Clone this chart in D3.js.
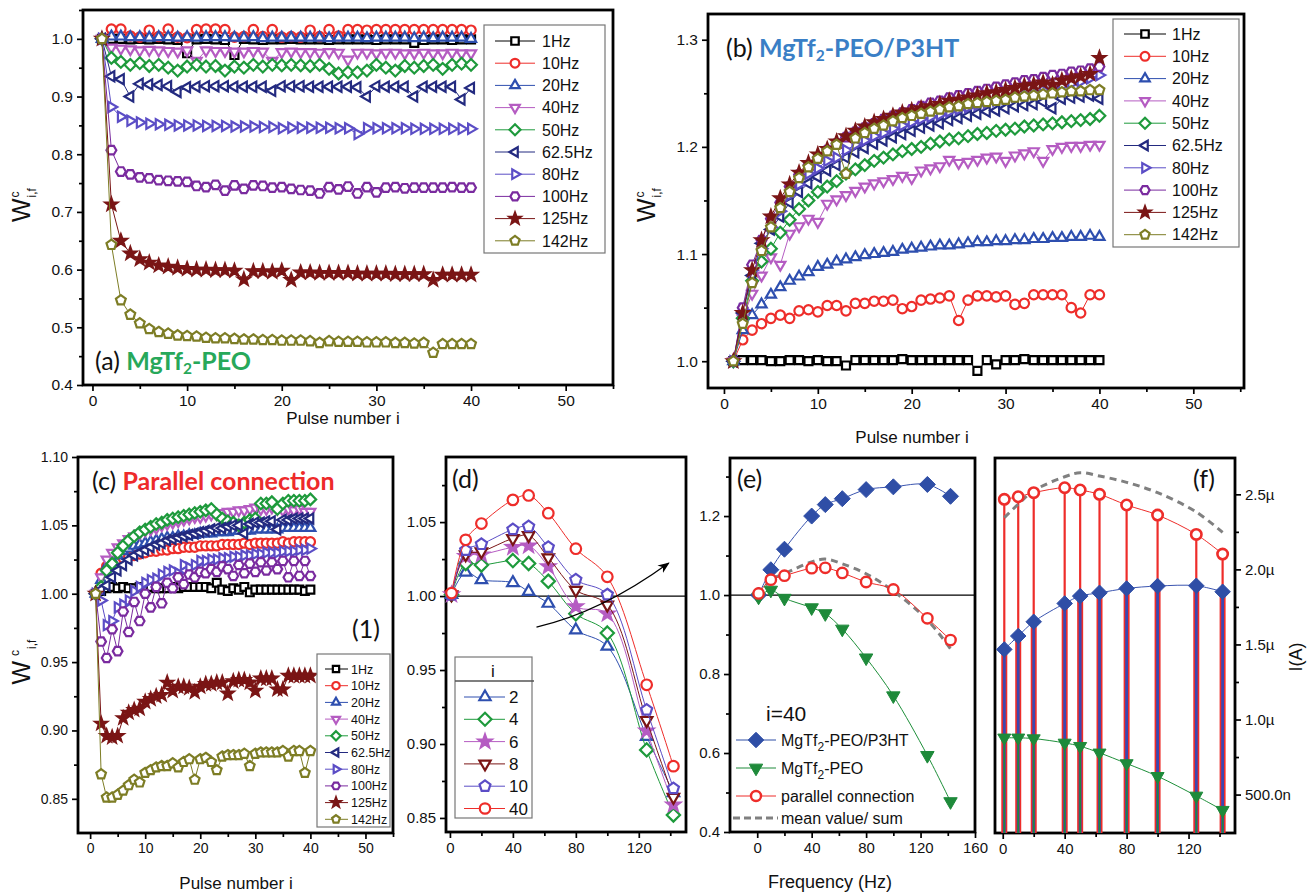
<!DOCTYPE html>
<html>
<head>
<meta charset="utf-8">
<script src="https://cdn.jsdelivr.net/npm/d3@7"></script>
<style>
  body { margin: 0; background: #fff; }
  svg { display: block; }
</style>
</head>
<body>
<script>
/* ---------- data ---------- */
const hzLabels = ['1Hz', '10Hz', '20Hz', '40Hz', '50Hz', '62.5Hz', '80Hz', '100Hz', '125Hz', '142Hz'];
const hzColors = ['#000000', '#ee2d2a', '#2e4faf', '#b55cc2', '#1e9a3c', '#232a80', '#5b4dc6', '#7a2b9f', '#7a1515', '#7d7d25'];
const hzShapes = ['square', 'circle', 'up', 'down', 'diamond', 'left', 'right', 'hex', 'star', 'pent'];
const pulse = d3.range(1, 41); // pulse number i

// (a) MgTf2-PEO
const aW = [
  [1.0, 1.0, 1.0, 0.999, 1.0, 0.999, 1.0, 0.999, 0.998, 0.975, 0.999, 1.0, 0.999, 0.998, 0.972, 1.0, 0.999, 0.998, 0.999, 0.999, 1.0, 0.999, 0.999, 0.999, 0.998, 0.999, 0.999, 0.999, 0.999, 0.998, 0.999, 0.999, 0.999, 0.993, 0.998, 0.999, 0.999, 0.998, 0.999, 0.999],
  [1.0, 1.017, 1.017, 1.005, 1.003, 1.015, 1.004, 1.017, 1.003, 1.002, 1.016, 1.017, 1.017, 1.016, 1.003, 1.004, 1.016, 1.004, 1.016, 1.003, 1.004, 1.003, 1.015, 1.004, 1.016, 1.005, 1.016, 1.016, 1.015, 1.016, 1.016, 1.016, 1.016, 1.016, 1.016, 1.016, 1.016, 1.016, 1.016, 1.015],
  [1.0, 1.004, 1.004, 1.003, 1.003, 1.002, 1.003, 1.003, 1.002, 1.003, 1.002, 1.003, 1.003, 1.003, 1.002, 1.002, 1.003, 1.001, 1.002, 1.002, 1.002, 1.002, 1.002, 1.002, 1.001, 1.002, 1.002, 1.002, 1.001, 1.002, 1.002, 1.002, 1.002, 1.001, 1.002, 1.001, 1.002, 1.002, 1.002, 1.0],
  [1.0, 0.985, 0.983, 0.982, 0.98, 0.981, 0.98, 0.979, 0.978, 0.98, 0.962, 0.98, 0.979, 0.979, 0.978, 0.978, 0.979, 0.978, 0.962, 0.977, 0.978, 0.977, 0.977, 0.976, 0.977, 0.976, 0.964, 0.976, 0.976, 0.975, 0.976, 0.976, 0.975, 0.975, 0.976, 0.975, 0.975, 0.976, 0.975, 0.975],
  [1.0, 0.967, 0.96, 0.955, 0.958, 0.953, 0.955, 0.95, 0.945, 0.952, 0.955, 0.952, 0.953, 0.945, 0.952, 0.95, 0.955, 0.952, 0.955, 0.954, 0.955, 0.954, 0.953, 0.955, 0.948, 0.94, 0.942, 0.942, 0.945, 0.955, 0.95, 0.945, 0.953, 0.95, 0.953, 0.955, 0.948, 0.955, 0.957, 0.955],
  [1.0, 0.935, 0.93, 0.9, 0.922, 0.921, 0.92, 0.918, 0.908, 0.916, 0.917, 0.918, 0.918, 0.918, 0.917, 0.917, 0.917, 0.917, 0.91, 0.918, 0.918, 0.918, 0.917, 0.917, 0.917, 0.917, 0.917, 0.916, 0.9, 0.918, 0.917, 0.917, 0.917, 0.9, 0.917, 0.917, 0.917, 0.917, 0.895, 0.915],
  [1.0, 0.882, 0.865, 0.858, 0.855, 0.853, 0.852, 0.851, 0.85, 0.85, 0.85, 0.849, 0.849, 0.849, 0.848, 0.848, 0.848, 0.847, 0.847, 0.845, 0.846, 0.846, 0.846, 0.846, 0.846, 0.845, 0.845, 0.835, 0.845, 0.845, 0.845, 0.845, 0.845, 0.844, 0.844, 0.844, 0.844, 0.844, 0.844, 0.844],
  [1.0, 0.807, 0.77, 0.765, 0.76, 0.758, 0.755, 0.754, 0.753, 0.752, 0.745, 0.743, 0.747, 0.737, 0.746, 0.74, 0.746, 0.745, 0.742, 0.743, 0.74, 0.738, 0.737, 0.732, 0.743, 0.739, 0.744, 0.732, 0.743, 0.734, 0.742, 0.743, 0.741, 0.742, 0.742, 0.742, 0.742, 0.743, 0.742, 0.742],
  [1.0, 0.713, 0.65, 0.628, 0.618, 0.612, 0.607, 0.605, 0.603, 0.601, 0.6, 0.6, 0.599, 0.599, 0.598, 0.583, 0.597, 0.597, 0.596, 0.598, 0.582, 0.595, 0.595, 0.594, 0.594, 0.594, 0.594, 0.593, 0.593, 0.593, 0.593, 0.592, 0.592, 0.592, 0.592, 0.582, 0.591, 0.591, 0.591, 0.591],
  [1.0, 0.643, 0.547, 0.522, 0.507, 0.497, 0.492, 0.489, 0.486, 0.485, 0.484, 0.482, 0.481, 0.481, 0.48, 0.479, 0.479, 0.478, 0.478, 0.477, 0.477, 0.477, 0.476, 0.473, 0.476, 0.475, 0.475, 0.475, 0.474, 0.474, 0.474, 0.473, 0.473, 0.472, 0.473, 0.456, 0.471, 0.471, 0.471, 0.471]
];

// (b) MgTf2-PEO/P3HT
const bW = [
  [1.0, 1.001, 1.001, 1.001, 1.0, 1.0, 1.001, 1.001, 1.0, 1.001, 1.0, 1.0, 0.996, 1.001, 1.001, 1.001, 1.001, 1.001, 1.002, 1.001, 1.001, 1.001, 1.001, 1.001, 1.001, 1.001, 0.991, 1.001, 0.997, 1.001, 1.001, 1.002, 1.001, 1.001, 1.001, 1.001, 1.001, 1.001, 1.001, 1.001],
  [1.0, 1.02, 1.029, 1.035, 1.04, 1.043, 1.04, 1.047, 1.048, 1.046, 1.052, 1.052, 1.047, 1.054, 1.054, 1.056, 1.056, 1.057, 1.049, 1.051, 1.057, 1.058, 1.059, 1.061, 1.038, 1.057, 1.061, 1.061, 1.06, 1.061, 1.053, 1.054, 1.062, 1.062, 1.062, 1.062, 1.05, 1.045, 1.062, 1.062],
  [1.0, 1.029, 1.043, 1.053, 1.062, 1.069, 1.075, 1.079, 1.083, 1.088, 1.09, 1.093, 1.095, 1.097, 1.099, 1.1, 1.101, 1.102, 1.104, 1.105, 1.106, 1.107, 1.108, 1.108, 1.109, 1.11, 1.111, 1.111, 1.112, 1.112, 1.113, 1.113, 1.114, 1.114, 1.115, 1.115, 1.116, 1.116, 1.117, 1.116],
  [1.0, 1.04, 1.063, 1.08, 1.097, 1.09, 1.119, 1.126, 1.133, 1.13, 1.147, 1.151, 1.155, 1.159, 1.163, 1.166, 1.168, 1.17, 1.173, 1.171, 1.178, 1.18, 1.182, 1.188, 1.185, 1.186, 1.188, 1.19, 1.191, 1.187, 1.192, 1.194, 1.196, 1.187, 1.198, 1.2, 1.201, 1.201, 1.202, 1.202],
  [1.0, 1.04, 1.075, 1.093, 1.105, 1.12, 1.132, 1.142, 1.15, 1.158, 1.163, 1.168, 1.175, 1.179, 1.183, 1.187, 1.19, 1.193, 1.196, 1.198, 1.2, 1.203, 1.205, 1.207, 1.208, 1.21, 1.212, 1.213, 1.215, 1.216, 1.217, 1.219, 1.22, 1.221, 1.222, 1.223, 1.224, 1.225, 1.226, 1.229],
  [1.0, 1.045, 1.08, 1.11, 1.123, 1.135, 1.148, 1.158, 1.166, 1.172, 1.178, 1.183, 1.19, 1.195, 1.199, 1.203, 1.206, 1.209, 1.212, 1.215, 1.218, 1.22, 1.222, 1.225, 1.227, 1.229, 1.231, 1.233, 1.234, 1.236, 1.238, 1.239, 1.24, 1.242, 1.236, 1.245, 1.246, 1.247, 1.248, 1.245],
  [1.0, 1.048, 1.085, 1.105, 1.125, 1.14, 1.155, 1.165, 1.175, 1.18, 1.187, 1.19, 1.197, 1.202, 1.206, 1.21, 1.213, 1.217, 1.22, 1.223, 1.226, 1.228, 1.23, 1.233, 1.235, 1.237, 1.239, 1.241, 1.243, 1.245, 1.247, 1.249, 1.251, 1.253, 1.255, 1.257, 1.259, 1.261, 1.264, 1.267],
  [1.0, 1.05, 1.09, 1.113, 1.133, 1.148, 1.163, 1.174, 1.183, 1.19, 1.197, 1.203, 1.209, 1.214, 1.218, 1.222, 1.226, 1.229, 1.232, 1.235, 1.238, 1.241, 1.243, 1.246, 1.248, 1.25, 1.252, 1.254, 1.256, 1.258, 1.26, 1.262, 1.263, 1.265, 1.267, 1.268, 1.27, 1.271, 1.273, 1.275],
  [1.0, 1.045, 1.085, 1.113, 1.135, 1.152, 1.165, 1.176, 1.185, 1.193, 1.198, 1.205, 1.21, 1.215, 1.219, 1.223, 1.226, 1.229, 1.232, 1.234, 1.236, 1.238, 1.24, 1.243, 1.244, 1.246, 1.248, 1.25, 1.251, 1.253, 1.255, 1.257, 1.258, 1.26, 1.258, 1.262, 1.264, 1.266, 1.268, 1.283],
  [1.0, 1.035, 1.073, 1.103, 1.125, 1.143, 1.158, 1.171, 1.181, 1.189, 1.196, 1.202, 1.175, 1.208, 1.213, 1.217, 1.22, 1.224, 1.227, 1.229, 1.231, 1.233, 1.235, 1.237, 1.238, 1.24, 1.241, 1.242, 1.243, 1.244, 1.246, 1.247, 1.248, 1.249, 1.25, 1.251, 1.252, 1.252, 1.253, 1.253]
];

// (c) parallel connection
const cW = [
  [1.0, 1.002, 1.004, 1.005, 1.004, 1.005, 1.004, 1.004, 1.005, 1.004, 1.005, 1.004, 1.004, 1.004, 1.005, 1.004, 1.005, 1.005, 1.005, 1.005, 1.005, 1.004, 1.008, 1.003, 1.002, 1.004, 1.003, 1.005, 1.001, 1.003, 1.003, 1.003, 1.003, 1.003, 1.003, 1.003, 1.003, 1.003, 1.002, 1.003],
  [1.0, 1.015, 1.02, 1.023, 1.025, 1.026, 1.027, 1.028, 1.029, 1.03, 1.031, 1.031, 1.032, 1.032, 1.033, 1.033, 1.034, 1.034, 1.034, 1.035, 1.035, 1.035, 1.035, 1.036, 1.036, 1.036, 1.036, 1.037, 1.036, 1.037, 1.037, 1.037, 1.037, 1.037, 1.038, 1.037, 1.038, 1.038, 1.038, 1.038],
  [1.0, 1.01, 1.02, 1.025, 1.028, 1.031, 1.033, 1.035, 1.036, 1.037, 1.038, 1.039, 1.04, 1.041, 1.041, 1.042, 1.042, 1.043, 1.043, 1.044, 1.044, 1.044, 1.045, 1.045, 1.045, 1.046, 1.046, 1.046, 1.046, 1.047, 1.047, 1.047, 1.047, 1.047, 1.048, 1.048, 1.048, 1.048, 1.048, 1.048],
  [1.0, 1.012, 1.025, 1.03, 1.034, 1.037, 1.04, 1.042, 1.044, 1.046, 1.047, 1.048, 1.05, 1.051, 1.052, 1.053, 1.054, 1.055, 1.056, 1.056, 1.057, 1.058, 1.058, 1.059, 1.06, 1.06, 1.061, 1.061, 1.062, 1.063, 1.062, 1.062, 1.063, 1.062, 1.061, 1.062, 1.061, 1.062, 1.06, 1.06],
  [1.0, 1.005, 1.017, 1.022, 1.03, 1.035, 1.039, 1.042, 1.045, 1.047, 1.049, 1.051, 1.052, 1.054, 1.055, 1.056, 1.057, 1.058, 1.059, 1.06, 1.061, 1.062, 1.058, 1.055, 1.053, 1.052, 1.05, 1.052, 1.054, 1.055, 1.066, 1.066, 1.067, 1.062, 1.066, 1.068, 1.068, 1.068, 1.068, 1.069],
  [1.0, 1.003, 1.006, 1.012, 1.017, 1.021, 1.025, 1.028, 1.03, 1.032, 1.034, 1.036, 1.037, 1.039, 1.04, 1.041, 1.042, 1.043, 1.044, 1.045, 1.046, 1.047, 1.048, 1.048, 1.049, 1.05, 1.05, 1.044, 1.051, 1.052, 1.052, 1.053, 1.053, 1.047, 1.054, 1.054, 1.055, 1.055, 1.055, 1.055],
  [1.0, 0.995, 0.977, 0.98, 0.99, 0.992, 0.995, 1.002, 1.005, 1.008, 1.01, 1.011, 1.014, 1.016, 1.017, 1.015, 1.021, 1.019, 1.021, 1.024, 1.024, 1.025, 1.025, 1.026, 1.026, 1.027, 1.027, 1.028, 1.028, 1.029, 1.029, 1.03, 1.03, 1.03, 1.031, 1.031, 1.031, 1.032, 1.032, 1.033],
  [1.0, 0.965, 0.953, 0.974, 0.958, 0.987, 0.972, 0.994, 0.98, 1.0, 0.99, 1.005, 0.993, 1.008, 1.004, 1.012, 1.007, 1.014, 1.012, 1.016, 1.015, 1.018, 1.016, 1.02, 1.018, 1.013, 1.021, 1.015, 1.022, 1.016, 1.023, 1.017, 1.023, 1.018, 1.024, 1.012, 1.024, 1.013, 1.024, 1.013],
  [1.0, 0.905, 0.896, 0.895, 0.896, 0.909, 0.913, 0.915, 0.916, 0.921, 0.923, 0.925, 0.926, 0.935, 0.929, 0.932, 0.932, 0.931, 0.928, 0.932, 0.934, 0.934, 0.935, 0.935, 0.927, 0.936, 0.937, 0.937, 0.935, 0.929, 0.938, 0.938, 0.938, 0.93, 0.93, 0.94, 0.94, 0.94, 0.94, 0.94],
  [1.0, 0.868, 0.851, 0.851, 0.853, 0.856, 0.86, 0.864, 0.862, 0.869, 0.871, 0.873, 0.874, 0.874, 0.876, 0.873, 0.877, 0.879, 0.864, 0.879, 0.88, 0.877, 0.871, 0.881, 0.882, 0.882, 0.882, 0.883, 0.874, 0.883, 0.884, 0.884, 0.884, 0.884, 0.885, 0.881, 0.885, 0.885, 0.869, 0.885]
];

// (d)-(f) against frequency
const freq = [1, 10, 20, 40, 50, 62.5, 80, 100, 125, 142];
const dLabels = ['2', '4', '6', '8', '10', '40'];
const dColors = ['#2e4faf', '#1e9a3c', '#b55cc2', '#7a1515', '#5b4dc6', '#ee2d2a'];
const dShapes = ['up', 'diamond', 'star', 'down', 'pent', 'circle'];
const dW = [
  [1.001, 1.016, 1.011, 1.009, 1.003, 0.995, 0.977, 0.966, 0.905, 0.867],
  [1.001, 1.022, 1.021, 1.024, 1.022, 1.010, 0.988, 0.975, 0.896, 0.852],
  [1.001, 1.027, 1.028, 1.033, 1.034, 1.020, 0.993, 0.988, 0.909, 0.859],
  [1.001, 1.028, 1.030, 1.039, 1.041, 1.026, 1.004, 0.994, 0.916, 0.864],
  [1.001, 1.031, 1.035, 1.045, 1.047, 1.033, 1.011, 1.001, 0.923, 0.870],
  [1.002, 1.038, 1.049, 1.065, 1.068, 1.056, 1.032, 1.013, 0.940, 0.885]
];

const eP3HT = [1.0, 1.064, 1.116, 1.2, 1.229, 1.244, 1.267, 1.274, 1.28, 1.25];
const ePEO = [0.995, 1.0125, 0.992, 0.968, 0.953, 0.914, 0.841, 0.745, 0.594, 0.477];
const ePar = [1.004, 1.039, 1.049, 1.068, 1.069, 1.056, 1.033, 1.014, 0.941, 0.886];
const eMean = [1.0, 1.038, 1.054, 1.084, 1.091, 1.079, 1.054, 1.01, 0.937, 0.864];

// (f) currents in microampere
const fP3HT = [1.467, 1.556, 1.651, 1.773, 1.822, 1.844, 1.873, 1.889, 1.891, 1.851];
const fPEO = [0.878, 0.878, 0.873, 0.844, 0.822, 0.778, 0.707, 0.622, 0.491, 0.396];
const fPar = [2.467, 2.484, 2.511, 2.544, 2.529, 2.5, 2.429, 2.362, 2.233, 2.102];
const fSum = [2.345, 2.434, 2.524, 2.617, 2.644, 2.622, 2.58, 2.511, 2.382, 2.247];
const fTicks = [0.5, 1.0, 1.5, 2.0, 2.5];
const fTickLabels = ['500.0n', '1.0\u00b5', '1.5\u00b5', '2.0\u00b5', '2.5\u00b5'];

/* ---------- helpers ---------- */
const FONT = '"Liberation Sans", Arial, sans-serif';
const LFONT = 'Lato, "Open Sans", sans-serif';

const svg = d3.select('body').append('svg')
  .attr('width', 1310)
  .attr('height', 895)
  .style('font-family', FONT);

// marker outline centred on 0,0
function shapePath(shape, r) {
  const p = d3.path();
  const poly = pts => { pts.forEach((q, i) => i ? p.lineTo(q[0], q[1]) : p.moveTo(q[0], q[1])); p.closePath(); };
  const ngon = (n, rr, a0) => poly(d3.range(n).map(k => [rr * Math.cos(a0 + 2 * Math.PI * k / n), rr * Math.sin(a0 + 2 * Math.PI * k / n)]));
  const c = Math.cos(Math.PI / 6), R = r * 1.25;
  switch (shape) {
    case 'square': p.rect(-r * 0.85, -r * 0.85, r * 1.7, r * 1.7); break;
    case 'circle': p.moveTo(r, 0); p.arc(0, 0, r, 0, 2 * Math.PI); break;
    case 'up': poly([[0, -R], [R * c, R / 2], [-R * c, R / 2]]); break;
    case 'down': poly([[0, R], [R * c, -R / 2], [-R * c, -R / 2]]); break;
    case 'left': poly([[-R, 0], [R / 2, -R * c], [R / 2, R * c]]); break;
    case 'right': poly([[R, 0], [-R / 2, -R * c], [-R / 2, R * c]]); break;
    case 'diamond': poly([[0, -R], [R, 0], [0, R], [-R, 0]]); break;
    case 'hex': ngon(6, r * 1.05, 0); break;
    case 'pent': ngon(5, r * 1.1, -Math.PI / 2); break;
    case 'star':
      poly(d3.range(10).map(k => {
        const rr = k % 2 ? r * 0.55 : r * 1.35, a = -Math.PI / 2 + k * Math.PI / 5;
        return [rr * Math.cos(a), rr * Math.sin(a)];
      }));
      break;
  }
  return p.toString();
}

function marks(g, pts, shape, color, r, fill, sw) {
  g.selectAll(null).data(pts).join('path')
    .attr('d', shapePath(shape, r))
    .attr('transform', d => `translate(${d[0]},${d[1]})`)
    .attr('fill', fill)
    .attr('stroke', color)
    .attr('stroke-width', sw)
    .attr('stroke-linejoin', 'miter');
}

function panel(o) {
  const g = svg.append('g');
  const x = d3.scaleLinear().domain(o.xd).range([o.x0, o.x1]);
  const y = d3.scaleLinear().domain(o.yd).range([o.y1, o.y0]);
  const style = s => {
    s.select('.domain').remove();
    s.selectAll('line').attr('stroke', '#000').attr('stroke-width', 1.7);
    s.selectAll('text').attr('font-size', o.fs).attr('font-family', FONT).attr('fill', '#111');
  };
  g.append('g').attr('transform', `translate(0,${o.y1})`)
    .call(d3.axisBottom(x).tickValues(o.xt).tickFormat(d3.format('d')).tickSize(6).tickPadding(4)).call(style);
  g.append('g').attr('transform', `translate(0,${o.y1})`)
    .call(d3.axisBottom(x).tickValues(o.xm).tickFormat('').tickSize(4)).call(style);
  const yAxis = o.right ? d3.axisRight : d3.axisLeft;
  const xPos = o.right ? o.x1 : o.x0;
  g.append('g').attr('transform', `translate(${xPos},0)`)
    .call(yAxis(y).tickValues(o.yt).tickFormat(o.yf).tickSize(6).tickPadding(4)).call(style);
  g.append('g').attr('transform', `translate(${xPos},0)`)
    .call(yAxis(y).tickValues(o.ym).tickFormat('').tickSize(4)).call(style);
  g.append('rect')
    .attr('x', o.x0).attr('y', o.y0)
    .attr('width', o.x1 - o.x0).attr('height', o.y1 - o.y0)
    .attr('fill', 'none').attr('stroke', '#000').attr('stroke-width', 2.8);
  return { g: g.append('g'), x, y };
}

function pulseSeries(P, data, r) {
  data.forEach((vals, k) => {
    const pts = vals.map((v, i) => [P.x(pulse[i]), P.y(v)]);
    P.g.append('path').attr('d', d3.line()(pts))
      .attr('fill', 'none').attr('stroke', hzColors[k]).attr('stroke-width', 1);
    marks(P.g, pts, hzShapes[k], hzColors[k], r, hzShapes[k] === 'star' ? hzColors[k] : '#fff', 2.2);
  });
}

function legend(o) {
  const g = svg.append('g');
  g.append('rect').attr('x', o.x).attr('y', o.y).attr('width', o.w).attr('height', o.h)
    .attr('fill', '#fff').attr('stroke', '#777').attr('stroke-width', 1.2);
  o.labels.forEach((lab, k) => {
    const yy = o.first + k * o.dy;
    g.append('line').attr('x1', o.l0).attr('x2', o.l1).attr('y1', yy).attr('y2', yy)
      .attr('stroke', o.colors[k]).attr('stroke-width', 1);
    marks(g, [[o.mx, yy]], o.shapes[k], o.colors[k], o.r, o.shapes[k] === 'star' ? o.colors[k] : '#fff', 2.2);
    g.append('text').attr('x', o.tx).attr('y', yy).attr('dy', '0.36em')
      .attr('font-size', o.fs).attr('font-family', o.font || FONT).attr('fill', '#111').text(lab);
  });
  return g;
}

function wLabel(x, y, spaced) {
  const t = svg.append('text').attr('transform', `translate(${x},${y}) rotate(-90)`)
    .attr('text-anchor', 'middle').attr('font-family', FONT).attr('fill', '#111');
  t.append('tspan').attr('font-size', 25).text('W');
  t.append('tspan').attr('font-size', 12).attr('dx', spaced ? 5 : 1).attr('dy', -11).text('c');
  t.append('tspan').attr('font-size', 12).attr('dx', spaced ? 1 : -6).attr('dy', 17).text('i,f');
}

function title(x, y, label, fs) {
  svg.append('text').attr('x', x).attr('y', y).attr('text-anchor', 'middle')
    .attr('font-size', fs).attr('font-family', FONT).attr('fill', '#111').text(label);
}

function tag(x, y, prefix, name, color, rest, fs) {
  const t = svg.append('text').attr('x', x).attr('y', y).attr('font-family', LFONT).attr('font-size', fs);
  t.append('tspan').attr('fill', '#111').text(prefix);
  if (name) {
    t.append('tspan').attr('fill', color).attr('font-weight', 'bold').text(name);
    if (rest !== undefined) {
      t.append('tspan').attr('fill', color).attr('font-weight', 'bold').attr('font-size', fs * 0.62).attr('dy', 4).text('2');
      t.append('tspan').attr('fill', color).attr('font-weight', 'bold').attr('dy', -4).text(rest);
    }
  }
}

const f1 = d3.format('.1f'), f2 = d3.format('.2f');

/* ---------- (a) ---------- */
const A = panel({
  x0: 83, x1: 613, y0: 10, y1: 385, xd: [-1, 55], yd: [0.4, 1.05],
  xt: d3.range(0, 51, 10), xm: d3.range(5, 56, 10),
  yt: [0.4, 0.5, 0.6, 0.7, 0.8, 0.9, 1.0], ym: [0.45, 0.55, 0.65, 0.75, 0.85, 0.95, 1.05], yf: f1, fs: 15.5
});
pulseSeries(A, aW, 4.7);
legend({ x: 484, y: 25, w: 121, h: 228, labels: hzLabels, colors: hzColors, shapes: hzShapes,
  first: 41, dy: 22.2, l0: 495, l1: 535, mx: 515, tx: 542, r: 4.4, fs: 16 });
tag(95, 370, '(a) ', 'MgTf', '#27a85a', '-PEO', 25);
wLabel(30, 205, false);
title(343, 424, 'Pulse number i', 17);

/* ---------- (b) ---------- */
const B = panel({
  x0: 708, x1: 1244, y0: 14, y1: 388, xd: [-1.7, 55.4], yd: [0.975, 1.324],
  xt: d3.range(0, 51, 10), xm: d3.range(5, 56, 10),
  yt: [1.0, 1.1, 1.2, 1.3], ym: [1.05, 1.15, 1.25], yf: f1, fs: 15.5
});
pulseSeries(B, bW, 4.7);
legend({ x: 1113, y: 19, w: 126, h: 228, labels: hzLabels, colors: hzColors, shapes: hzShapes,
  first: 34, dy: 22.3, l0: 1124, l1: 1166, mx: 1145, tx: 1172, r: 4.4, fs: 16 });
tag(726, 57, '(b) ', 'MgTf', '#3a7fc6', '-PEO/P3HT', 25);
wLabel(655, 205, false);
title(912, 443, 'Pulse number i', 17);

/* ---------- (c) ---------- */
const C = panel({
  x0: 78, x1: 393, y0: 457, y1: 833, xd: [-2.2, 55], yd: [0.825, 1.10],
  xt: d3.range(0, 51, 10), xm: d3.range(5, 56, 10),
  yt: [0.85, 0.90, 0.95, 1.00, 1.05, 1.10], ym: [0.875, 0.925, 0.975, 1.025, 1.075], yf: f2, fs: 14
});
pulseSeries(C, cW, 4.6);
legend({ x: 317, y: 654, w: 73, h: 173, labels: hzLabels, colors: hzColors, shapes: hzShapes,
  first: 669, dy: 16.7, l0: 325, l1: 348, mx: 336, tx: 351, r: 3.7, fs: 12.5,
  font: '"Liberation Sans Narrow", "Liberation Sans", sans-serif' });
tag(92, 490, '(c) ', 'Parallel connection', '#ee2a2a', undefined, 25);
svg.append('text').attr('x', 352).attr('y', 638).attr('font-family', LFONT).attr('font-size', 25).attr('fill', '#111').text('(1)');
wLabel(30, 662, true);
title(236, 889, 'Pulse number i', 17);

/* ---------- (d) ---------- */
const D = panel({
  x0: 446, x1: 686, y0: 457, y1: 832, xd: [-2.5, 150], yd: [0.8405, 1.094],
  xt: [0, 40, 80, 120], xm: [20, 60, 100, 140],
  yt: [0.85, 0.90, 0.95, 1.00, 1.05], ym: [0.875, 0.925, 0.975, 1.025, 1.075], yf: f2, fs: 15
});
D.g.append('line').attr('x1', 446).attr('x2', 686).attr('y1', D.y(1)).attr('y2', D.y(1))
  .attr('stroke', '#000').attr('stroke-width', 1.2);
const smooth = d3.line().curve(d3.curveCatmullRom.alpha(0.5));
dW.forEach((vals, k) => {
  const pts = vals.map((v, i) => [D.x(freq[i]), D.y(v)]);
  D.g.append('path').attr('d', smooth(pts)).attr('fill', 'none').attr('stroke', dColors[k]).attr('stroke-width', 1);
  marks(D.g, pts, dShapes[k], dColors[k], 5.3, dShapes[k] === 'star' ? dColors[k] : '#fff', 2.2);
});
// arrow showing increasing i
svg.append('defs').append('marker').attr('id', 'ah').attr('viewBox', '0 0 10 10')
  .attr('refX', 9).attr('refY', 5).attr('markerWidth', 9).attr('markerHeight', 9).attr('orient', 'auto')
  .append('path').attr('d', 'M0,1 L10,5 L0,9 L3,5 Z').attr('fill', '#000');
const arrowPath = d3.path();
arrowPath.moveTo(D.x(55), D.y(0.979));
arrowPath.quadraticCurveTo(D.x(96), D.y(0.989), D.x(139), D.y(1.0223));
D.g.append('path').attr('d', arrowPath.toString()).attr('fill', 'none')
  .attr('stroke', '#000').attr('stroke-width', 1.3).attr('marker-end', 'url(#ah)');
const dl = legend({ x: 455, y: 657, w: 77, h: 161, labels: dLabels, colors: dColors, shapes: dShapes,
  first: 697, dy: 22.3, l0: 464, l1: 505, mx: 485, tx: 509, r: 5.2, fs: 17 });
dl.append('line').attr('x1', 455).attr('x2', 534).attr('y1', 681).attr('y2', 681).attr('stroke', '#555').attr('stroke-width', 1.4);
dl.append('text').attr('x', 493).attr('y', 677).attr('text-anchor', 'middle').attr('font-size', 17).attr('fill', '#111').text('i');
tag(452, 488, '(d)', null, null, undefined, 25);

/* ---------- (e) ---------- */
const E = panel({
  x0: 730, x1: 975, y0: 458, y1: 832, xd: [-20, 160], yd: [0.4, 1.347],
  xt: [0, 40, 80, 120, 160], xm: [20, 60, 100, 140],
  yt: [0.4, 0.6, 0.8, 1.0, 1.2], ym: [0.5, 0.7, 0.9, 1.1, 1.3], yf: f1, fs: 15
});
E.g.append('line').attr('x1', 730).attr('x2', 975).attr('y1', E.y(1)).attr('y2', E.y(1))
  .attr('stroke', '#000').attr('stroke-width', 1.2);
const ePts = arr => arr.map((v, i) => [E.x(freq[i]), E.y(v)]);
E.g.append('path').attr('d', smooth(ePts(eMean))).attr('fill', 'none')
  .attr('stroke', '#808080').attr('stroke-width', 3).attr('stroke-dasharray', '7,5');
E.g.append('path').attr('d', smooth(ePts(eP3HT))).attr('fill', 'none').attr('stroke', '#3b55b0').attr('stroke-width', 1);
E.g.append('path').attr('d', smooth(ePts(ePEO))).attr('fill', 'none').attr('stroke', '#1e8f3a').attr('stroke-width', 1);
E.g.append('path').attr('d', smooth(ePts(ePar))).attr('fill', 'none').attr('stroke', '#ee2d2a').attr('stroke-width', 1);
marks(E.g, ePts(eP3HT), 'diamond', '#2f4ea6', 6.4, '#2f4ea6', 1);
marks(E.g, ePts(ePEO), 'down', '#1e8a3a', 6.2, '#1e8a3a', 1);
marks(E.g, ePts(ePar), 'circle', '#ee2d2a', 5.2, '#fff', 2.4);
const eLeg = svg.append('g');
[['MgTf', '-PEO/P3HT', 'diamond', '#2f4ea6', '#2f4ea6'], ['MgTf', '-PEO', 'down', '#1e8a3a', '#1e8a3a'],
 ['parallel connection', null, 'circle', '#ee2d2a', '#fff']].forEach((it, k) => {
  const yy = [740, 768, 796][k];
  eLeg.append('line').attr('x1', 736).attr('x2', 776).attr('y1', yy).attr('y2', yy).attr('stroke', it[3]).attr('stroke-width', 1);
  marks(eLeg, [[756, yy]], it[2], it[3], k === 2 ? 5 : 6.2, it[4], k === 2 ? 2.4 : 1);
  const t = eLeg.append('text').attr('x', 781).attr('y', yy).attr('dy', '0.36em').attr('font-size', 16).attr('fill', '#111');
  t.append('tspan').text(it[0]);
  if (it[1]) {
    t.append('tspan').attr('font-size', 12).attr('dy', 5).text('2');
    t.append('tspan').attr('dy', -5).text(it[1]);
  }
});
eLeg.append('line').attr('x1', 733).attr('x2', 778).attr('y1', 818).attr('y2', 818)
  .attr('stroke', '#808080').attr('stroke-width', 3).attr('stroke-dasharray', '7,4');
eLeg.append('text').attr('x', 781).attr('y', 818).attr('dy', '0.36em').attr('font-size', 16).attr('fill', '#111').text('mean value/ sum');
svg.append('text').attr('x', 766).attr('y', 721).attr('font-size', 21).attr('fill', '#111').text('i=40');
tag(737, 488, '(e)', null, null, undefined, 25);
title(830, 888, 'Frequency (Hz)', 18);

/* ---------- (f) ---------- */
const F = panel({
  x0: 995, x1: 1235, y0: 458, y1: 833, xd: [-5, 150], yd: [0.244, 2.742],
  xt: [0, 40, 80, 120], xm: [20, 60, 100, 140],
  yt: fTicks, ym: [0.75, 1.25, 1.75, 2.25], yf: d => fTickLabels[fTicks.indexOf(d)], fs: 15, right: true
});
const fPts = arr => arr.map((v, i) => [F.x(freq[i]), F.y(v)]);
freq.forEach((fq, i) => {
  const xx = F.x(fq);
  F.g.append('line').attr('x1', xx).attr('x2', xx).attr('y1', F.y(fPar[i])).attr('y2', 833).attr('stroke', '#ee2d2a').attr('stroke-width', 2.2);
  F.g.append('line').attr('x1', xx).attr('x2', xx).attr('y1', F.y(fP3HT[i])).attr('y2', 833).attr('stroke', '#ee2d2a').attr('stroke-width', 6);
  F.g.append('line').attr('x1', xx).attr('x2', xx).attr('y1', F.y(fP3HT[i])).attr('y2', 833).attr('stroke', '#3b48b0').attr('stroke-width', 2.8);
  F.g.append('line').attr('x1', xx).attr('x2', xx).attr('y1', F.y(fPEO[i])).attr('y2', 833).attr('stroke', '#1e8a3a').attr('stroke-width', 1.6);
});
F.g.append('path').attr('d', smooth(fPts(fSum))).attr('fill', 'none')
  .attr('stroke', '#808080').attr('stroke-width', 3).attr('stroke-dasharray', '7,5');
F.g.append('path').attr('d', smooth(fPts(fPar))).attr('fill', 'none').attr('stroke', '#ee2d2a').attr('stroke-width', 1);
F.g.append('path').attr('d', smooth(fPts(fP3HT))).attr('fill', 'none').attr('stroke', '#3b55b0').attr('stroke-width', 1);
F.g.append('path').attr('d', smooth(fPts(fPEO))).attr('fill', 'none').attr('stroke', '#1e8f3a').attr('stroke-width', 1);
marks(F.g, fPts(fP3HT), 'diamond', '#2f4ea6', 6.2, '#2f4ea6', 1);
marks(F.g, fPts(fPEO), 'down', '#1e8a3a', 6, '#1e8a3a', 1);
marks(F.g, fPts(fPar), 'circle', '#ee2d2a', 5.2, '#fff', 2.6);
tag(1193, 488, '(f)', null, null, undefined, 25);
svg.append('text').attr('transform', 'translate(1302,657) rotate(-90)').attr('text-anchor', 'middle')
  .attr('font-size', 18).attr('fill', '#111').text('I(A)');
</script>
</body>
</html>
